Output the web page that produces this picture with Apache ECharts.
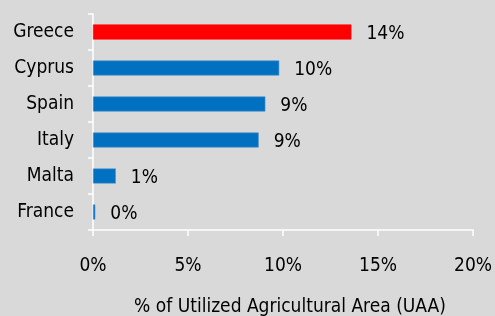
<!DOCTYPE html>
<html lang="en">
<head>
    <meta charset="UTF-8">
    <title>UAA</title>
    <style>
        html, body { margin: 0; padding: 0; background: #d9d9d9; }
    </style>
</head>
<body>
<div id="main" style="width:495px;height:316px;"></div>
<script src="https://cdn.jsdelivr.net/npm/echarts@6/dist/echarts.min.js"></script>
<script>
    var countries = ['Greece', 'Cyprus', 'Spain', 'Italy', 'Malta', 'France'];
    var shares = [13.6, 9.8, 9.07, 8.72, 1.2, 0.12];
    var barColors = ['#ff0000', '#0070c0', '#0070c0', '#0070c0', '#0070c0', '#0070c0'];
    var xTicks = [0, 5, 10, 15, 20];

    var font = "'DejaVu Sans Condensed', 'DejaVu Sans', sans-serif";

    var myChart = echarts.init(document.getElementById('main'));
    var option = {
        backgroundColor: '#d9d9d9',
        animation: false,
        grid: {
            left: 93,
            right: 22,
            top: 14,
            bottom: 86,
            outerBoundsMode: 'none'
        },
        xAxis: {
            type: 'value',
            min: xTicks[0],
            max: xTicks[xTicks.length - 1],
            interval: 5,
            name: '% of Utilized Agricultural Area (UAA)',
            nameLocation: 'middle',
            nameGap: 68,
            nameTextStyle: { color: '#000', fontSize: 19, fontFamily: font, padding: [0, 0, 0, 14] },
            axisLine: { show: true, lineStyle: { color: '#fff', width: 1.5 } },
            axisTick: { show: true, length: 6, lineStyle: { color: '#fff', width: 1.5 } },
            axisLabel: {
                color: '#000',
                fontSize: 19,
                fontFamily: font,
                margin: 27,
                formatter: function (v) { return v + '%'; }
            },
            splitLine: { show: false }
        },
        yAxis: {
            type: 'category',
            data: countries,
            inverse: true,
            axisLine: { show: true, lineStyle: { color: '#fff', width: 1.5 } },
            axisTick: { show: true, length: 5, lineStyle: { color: '#fff', width: 1.5 } },
            axisLabel: {
                color: '#000',
                fontSize: 19,
                fontFamily: font,
                margin: 19
            }
        },
        series: [
            {
                type: 'bar',
                barWidth: 15,
                data: shares.map(function (v, i) {
                    return {
                        value: v,
                        itemStyle: {
                            color: barColors[i],
                            borderColor: i === 0 ? '#ff0000' : '#4a90d0',
                            borderWidth: 0.6
                        }
                    };
                }),
                label: {
                    show: true,
                    position: 'right',
                    distance: 15,
                    offset: [0, 2],
                    color: '#000',
                    fontSize: 19,
                    fontFamily: font,
                    formatter: function (p) { return Math.round(p.value) + '%'; }
                }
            }
        ]
    };
    myChart.setOption(option);
</script>
</body>
</html>
